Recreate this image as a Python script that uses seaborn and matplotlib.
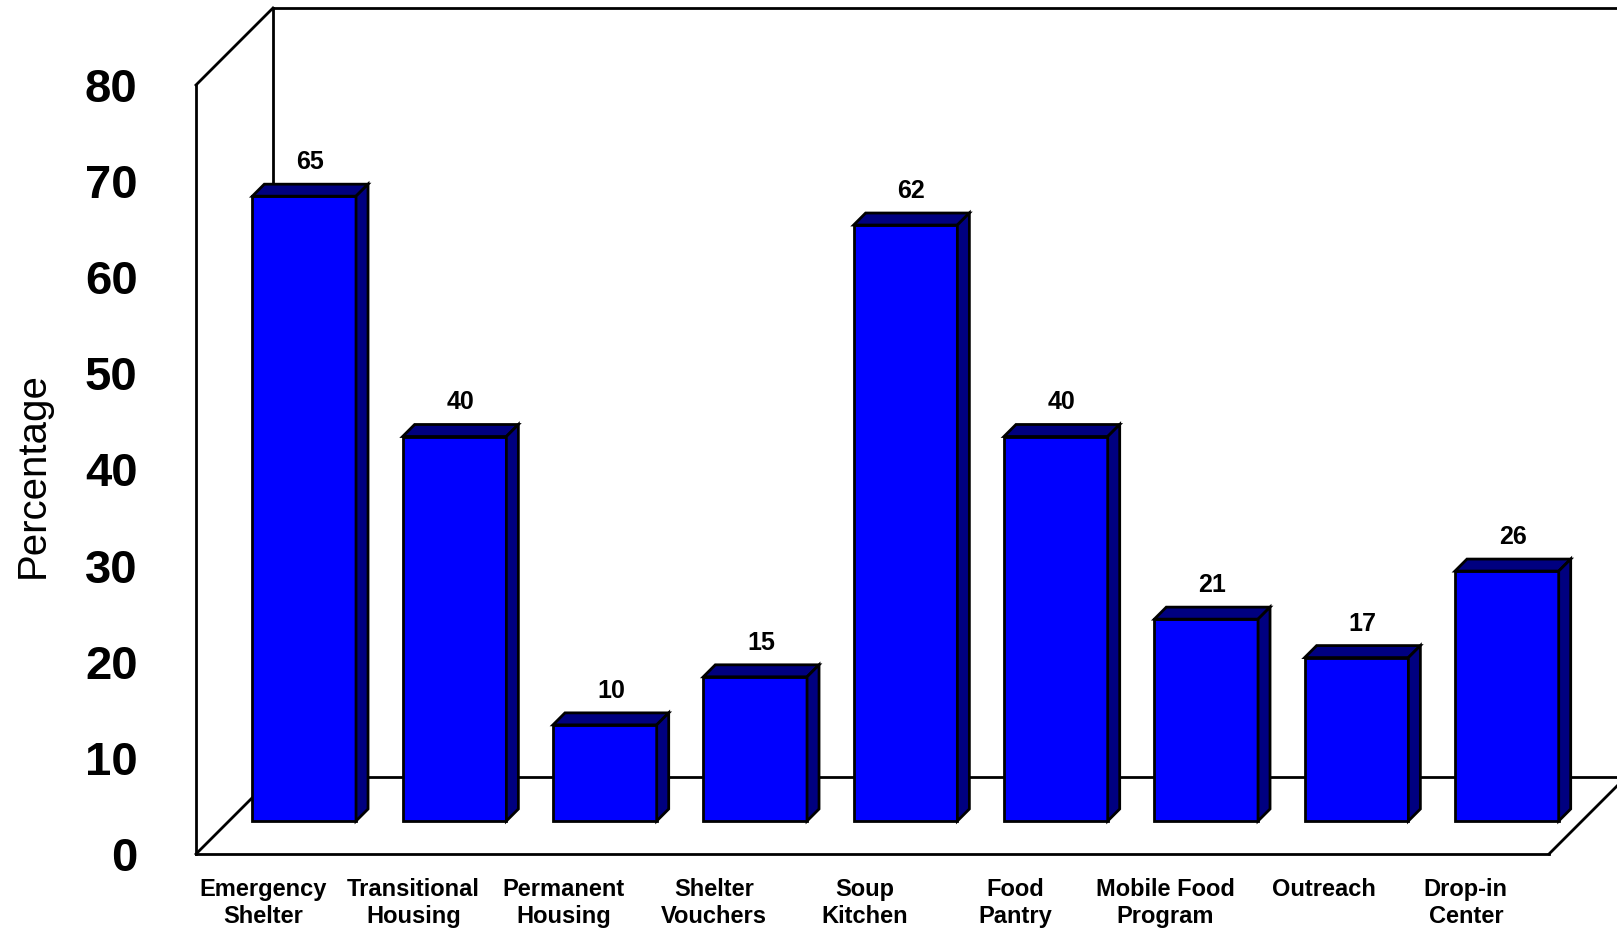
import matplotlib
matplotlib.use('Agg')
import matplotlib.pyplot as plt
import seaborn as sns
from matplotlib.transforms import ScaledTranslation
from matplotlib.patches import Polygon

categories = ['Emergency\nShelter', 'Transitional\nHousing', 'Permanent\nHousing',
              'Shelter\nVouchers', 'Soup\nKitchen', 'Food\nPantry',
              'Mobile Food\nProgram', 'Outreach', 'Drop-in\nCenter']
values = [65, 40, 10, 15, 62, 40, 21, 17, 26]
yticks = [0, 10, 20, 30, 40, 50, 60, 70, 80]

sns.set_style('white')
plt.rcParams['font.family'] = ['Liberation Sans', 'DejaVu Sans']
plt.rcParams['text.color'] = 'black'
plt.rcParams['axes.labelcolor'] = 'black'
plt.rcParams['xtick.color'] = 'black'
plt.rcParams['ytick.color'] = 'black'

W, H, DPI = 1617, 931, 100
fig = plt.figure(figsize=(W / DPI, H / DPI), dpi=DPI)
# front plane of the fake 3D box, in pixels
left, right, bottom, top = 196, 1549, 854, 85
ax = fig.add_axes([left / W, 1 - bottom / H, (right - left) / W, (bottom - top) / H])

sns.barplot(x=categories, y=values, color='#0000FF', saturation=1, width=0.69,
            edgecolor='black', linewidth=2, ax=ax, zorder=3)
ax.set_xlim(-0.5, 8.5)
ax.set_ylim(0, 80)

px_x = (right - left) / 9.0
px_y = (bottom - top) / 80.0


def shift(dx, dy):
    return ax.transData + ScaledTranslation(dx / DPI, dy / DPI, fig.dpi_scale_trans)


# walls and floor
D = 77
du, dv = D / px_x, D / px_y
xL, xR = -0.5, 8.5
segs = [
    ((xL, xL), (0, 80)),
    ((xL, xL + du), (80, 80 + dv)),
    ((xL + du, xR + du), (80 + dv, 80 + dv)),
    ((xL + du, xL + du), (dv, 80 + dv)),
    ((xL, xL + du), (0, dv)),
    ((xL + du, xR + du), (dv, dv)),
    ((xL, xR), (0, 0)),
    ((xR, xR + du), (0, dv)),
]
for xs, ys in segs:
    ax.plot(xs, ys, color='black', lw=2, clip_on=False, zorder=1,
            solid_capstyle='projecting')

# bars sit halfway into the box, with a small depth of their own
off = 33
d = 12
ddx, ddy = d / px_x, d / px_y
bar_tr = shift(off, off)
for p, v in zip(ax.patches, values):
    p.set_transform(bar_tr)
    p.set_clip_on(False)
    x0, w, h = p.get_x(), p.get_width(), p.get_height()
    top_face = [(x0, h), (x0 + w, h), (x0 + w + ddx, h + ddy), (x0 + ddx, h + ddy)]
    side_face = [(x0 + w, 0), (x0 + w + ddx, ddy), (x0 + w + ddx, h + ddy), (x0 + w, h)]
    for pts in (top_face, side_face):
        ax.add_patch(Polygon(pts, closed=True, facecolor='#000080', edgecolor='black',
                             lw=2, transform=bar_tr, clip_on=False, zorder=3,
                             joinstyle='miter'))
    ax.text(x0 + w / 2 + ddx / 2, h + ddy, str(v), transform=shift(off, off + 15),
            ha='center', va='baseline', fontsize=18, fontweight='bold', zorder=4)

for s in ax.spines.values():
    s.set_visible(False)

ax.set_yticks(yticks)
ax.set_yticklabels([str(t) for t in yticks], fontweight='bold')
ax.tick_params(axis='y', length=0, pad=42, labelsize=34)
ax.set_xticks(range(len(categories)))
ax.set_xticklabels(categories, fontweight='bold', linespacing=1.25)
ax.tick_params(axis='x', length=0, pad=17, labelsize=17)
for lbl in ax.get_xticklabels():
    dx = 0 if lbl.get_text() == 'Outreach' else -8
    lbl.set_transform(lbl.get_transform() + ScaledTranslation(dx / DPI, 0, fig.dpi_scale_trans))

ax.set_xlabel('')
ax.set_ylabel('Percentage', fontsize=29, va='center')
ax.yaxis.set_label_coords(-0.1205, 0.493)

fig.savefig('out.png', dpi=DPI)
